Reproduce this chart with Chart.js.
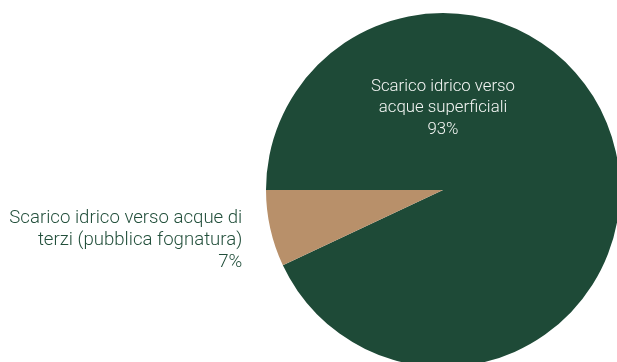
<!DOCTYPE html>
<html lang="it">
<head>
  <meta charset="UTF-8" />
  <title>Scarico idrico</title>
  <script src="https://cdn.jsdelivr.net/npm/chart.js@4.4.0/dist/chart.umd.min.js"></script>
  <style>
    html, body { margin: 0; padding: 0; background: #fff; overflow: hidden; }
    .wrap { position: relative; width: 617px; height: 362px; }
  </style>
</head>
<body>
  <div class="wrap"><canvas id="scarico"></canvas></div>

  <script>
    const categorie = [
      ['Scarico idrico verso', 'acque superficiali'],
      ['Scarico idrico verso acque di', 'terzi (pubblica fognatura)']
    ];
    const percentuali = [93, 7];
    const colori = ['#1e4a37', '#b8906a'];

    // etichette: la fetta grande dentro il cerchio, la piccola fuori a sinistra
    const etichette = {
      id: 'etichette',
      afterDatasetsDraw(chart) {
        const ctx = chart.ctx;
        const meta = chart.getDatasetMeta(0);
        ctx.save();
        ctx.textBaseline = 'middle';
        meta.data.forEach((arc, i) => {
          const righe = [...categorie[i], percentuali[i] + '%'];
          if (i === 0) {
            ctx.font = '300 16.8px Roboto, sans-serif';
            ctx.fillStyle = '#f4f6f4';
            ctx.textAlign = 'center';
            const y0 = arc.y - arc.outerRadius * 0.585;
            righe.forEach((t, k) => ctx.fillText(t, arc.x, y0 + k * 21.5));
          } else {
            const mid = (arc.startAngle + arc.endAngle) / 2;
            const px = arc.x + Math.cos(mid) * arc.outerRadius - 28;
            const py = arc.y + Math.sin(mid) * arc.outerRadius + 12;
            ctx.font = '300 18.6px Roboto, sans-serif';
            ctx.fillStyle = '#224f3b';
            ctx.textAlign = 'right';
            righe.forEach((t, k) => ctx.fillText(t, px, py + (k - 1) * 22));
          }
        });
        ctx.restore();
      }
    };

    new Chart(document.getElementById('scarico'), {
      type: 'pie',
      data: {
        labels: categorie.map(c => c.join(' ')),
        datasets: [{
          data: percentuali,
          backgroundColor: colori,
          borderWidth: 0
        }]
      },
      options: {
        responsive: true,
        maintainAspectRatio: false,
        animation: false,
        rotation: 270,
        radius: 177,
        layout: { padding: { left: 269, top: 18, right: 0, bottom: 0 } },
        plugins: {
          legend: { display: false },
          tooltip: { enabled: false }
        }
      },
      plugins: [etichette]
    });
  </script>
</body>
</html>
